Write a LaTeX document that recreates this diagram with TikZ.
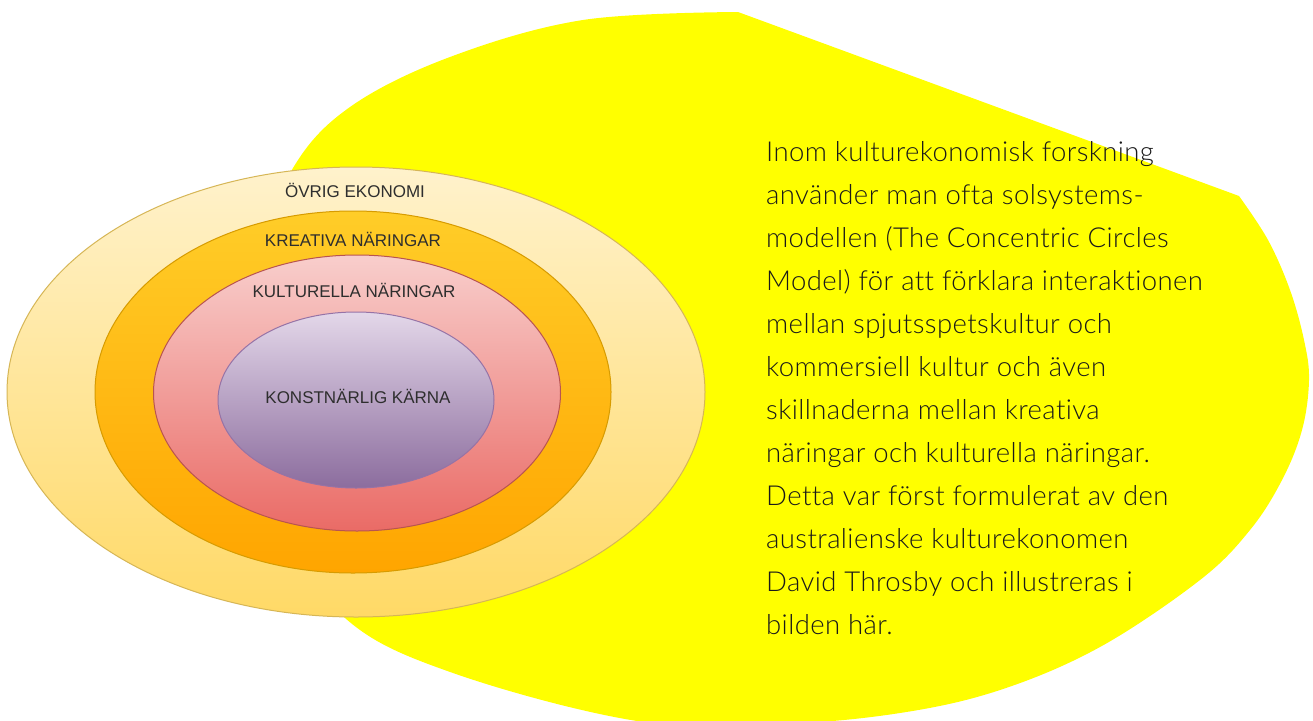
\documentclass[tikz,border=0pt]{standalone}
\usepackage{fontspec}
\usepackage{tikz}
\usetikzlibrary{shapes.geometric,positioning}
\newfontfamily\ringfont{Liberation Sans}
\newfontfamily\bodyfont{Lato Light}[LetterSpace=1.5,Ligatures=NoCommon]
\definecolor{sunyellow}{HTML}{FFFF00}
\definecolor{labelgray}{HTML}{2E2E2E}
\definecolor{bodyblack}{HTML}{1A1A1A}
\definecolor{ovrigtop}{HTML}{FFF2CC}
\definecolor{ovrigbot}{HTML}{FFD966}
\definecolor{ovrigline}{HTML}{D6B656}
\definecolor{kreativatop}{HTML}{FFCD28}
\definecolor{kreativabot}{HTML}{FFA500}
\definecolor{kreativaline}{HTML}{D79B00}
\definecolor{kulturellatop}{HTML}{F8CECC}
\definecolor{kulturellabot}{HTML}{EA6B66}
\definecolor{kulturellaline}{HTML}{B85450}
\definecolor{karnatop}{HTML}{E3D7E9}
\definecolor{karnabot}{HTML}{8C6D9E}
\definecolor{karnaline}{HTML}{9673A6}
\tikzset{
    %Define style for the rings
    ring/.style={
           ellipse,
           line width=1pt,
           inner sep=0pt},
    %Define style for ring labels
    ringlabel/.style={
           font=\ringfont\fontsize{17}{17}\selectfont,
           text=labelgray,
           anchor=base,
           inner sep=0pt},
    %Define style for the text lines
    bodyline/.style={
           font=\bodyfont\fontsize{27.5}{43}\selectfont,
           text=bodyblack,
           anchor=base west,
           inner sep=0pt}
}
\begin{document}
\begin{tikzpicture}[x=1pt,y=-1pt]

\path[use as bounding box, fill=white] (0,0) rectangle (1313,720);
\clip (0,0) rectangle (1313,720);

 %yellow backdrop
\fill[sunyellow] (738,12) -- (1239,196)
   -- plot[smooth, tension=0.6] coordinates {(1239,196) (1268,240) (1290,290)
      (1304,340) (1309,380) (1302,430) (1282,480) (1250,530) (1200,580)
      (1100,647) (1000,690) (900,713) (780,724) (637,721) (453,673) (345,618)
      (280,520) (245,400) (258,260) (293,168) (350,107) (450,57) (583,20) (738,12)}
   -- cycle;

 %rings
\node[ring, minimum width=698pt, minimum height=450pt, draw=ovrigline,
      top color=ovrigtop, bottom color=ovrigbot] (ovrig) at (356,392) {};
\node[ring, minimum width=516pt, minimum height=362pt, draw=kreativaline,
      top color=kreativatop, bottom color=kreativabot] (kreativa) at (353,392) {};
\node[ring, minimum width=407pt, minimum height=276pt, draw=kulturellaline,
      top color=kulturellatop, bottom color=kulturellabot] (kulturella) at (357,393) {};
\node[ring, minimum width=276pt, minimum height=176pt, draw=karnaline,
      top color=karnatop, bottom color=karnabot] (karna) at (356,400) {};

 %labels
\node[ringlabel] (ovriglabel) at (355,197) {ÖVRIG EKONOMI};
\node[ringlabel] (kreativalabel) at (353,246) {KREATIVA NÄRINGAR};
\node[ringlabel] (kulturellalabel) at (354,297) {KULTURELLA NÄRINGAR};
\node[ringlabel] (karnalabel) at (358,403) {KONSTNÄRLIG KÄRNA};

 %text
\foreach \txt [count=\i] in {{Inom kulturekonomisk forskning},
    {använder man ofta solsystems-},
    {modellen (The Concentric Circles},
    {Model) för att förklara interaktionen},
    {mellan spjutsspetskultur och},
    {kommersiell kultur och även},
    {skillnaderna mellan kreativa},
    {näringar och kulturella näringar.},
    {Detta var först formulerat av den},
    {australienske kulturekonomen},
    {David Throsby och illustreras i},
    {bilden här.}}
  \node[bodyline] (line\i) at (766,{161+43*(\i-1)}) {\txt};

\end{tikzpicture}
\end{document}
